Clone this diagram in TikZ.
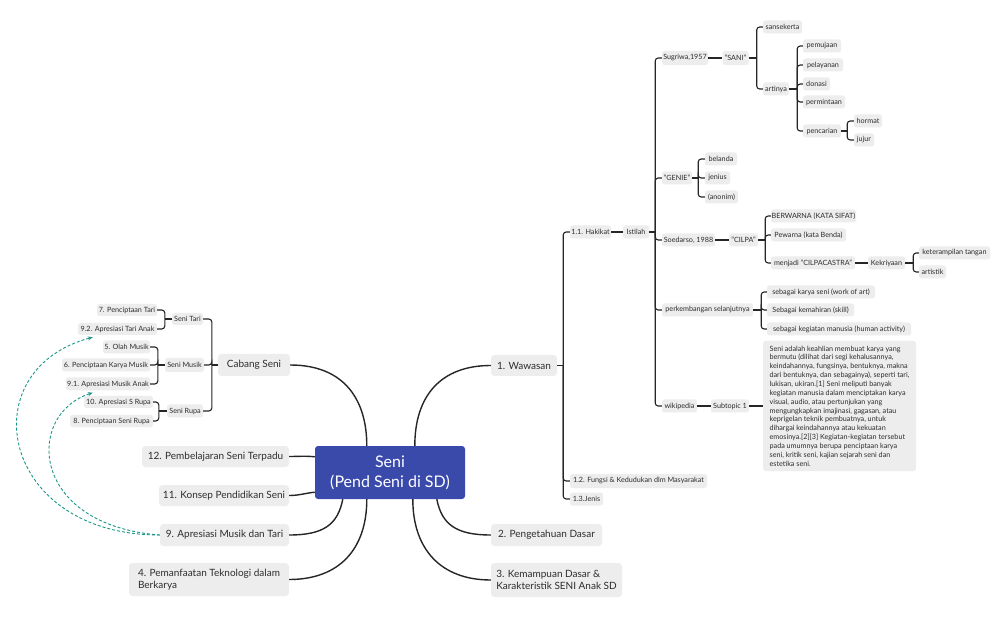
\documentclass[tikz,border=0pt]{standalone}
\usepackage{fontspec}
\setmainfont{Lato}
\usetikzlibrary{calc,arrows.meta}
\definecolor{boxgray}{RGB}{237,237,237}
\definecolor{txt}{RGB}{45,45,45}
\definecolor{lnk}{RGB}{38,38,38}
\definecolor{seniblue}{RGB}{58,74,171}
\definecolor{relteal}{RGB}{26,150,136}
\tikzset{
 sm/.style={fill=boxgray, rounded corners=2.5pt, inner sep=0pt, text=txt, font=\fontsize{7.2}{8.8}\selectfont, minimum height=13pt},
 mn/.style={fill=boxgray, rounded corners=3.5pt, inner sep=0pt, text=txt, font=\fontsize{10}{12}\selectfont, minimum height=21pt},
 mnl/.style={mn, align=left, font=\fontsize{10}{11.5}\selectfont},
 conn/.style={draw=lnk, line width=1.1pt, rounded corners=3pt},
 bigconn/.style={draw=lnk, line width=1.4pt},
 rel/.style={draw=relteal, line width=0.9pt, dash pattern=on 3pt off 2pt, -{Stealth[length=5pt,width=4pt]}}
}
\begin{document}
\begin{tikzpicture}[x=1pt,y=-1pt]
\useasboundingbox (0,0) rectangle (996,617);
\fill[white] (0,0) rectangle (996,617);

% central
\node[fill=seniblue, rounded corners=3pt, minimum width=150pt, minimum height=53pt, inner sep=0pt, text=white, font=\fontsize{16}{20}\selectfont, align=center] (seni) at (390,472.5) {Seni\\(Pend Seni di SD)};

% main nodes
\node[mn, minimum width=66pt] (waw) at (524,365.5) {1. Wawasan};
\node[mn, minimum width=111pt, minimum height=22pt] (peng) at (546.5,535) {2. Pengetahuan Dasar};
\node[mnl, minimum width=131pt, minimum height=34pt] (kem) at (556.5,580) {3. Kemampuan Dasar \&\\Karakteristik SENI Anak SD};
\node[mn, minimum width=72pt, minimum height=22pt] (cab) at (254,365) {Cabang Seni};
\node[mn, minimum width=147pt] (pem) at (215.5,456.5) {12. Pembelajaran Seni Terpadu};
\node[mn, minimum width=130pt] (kon) at (224,495.5) {11. Konsep Pendidikan Seni};
\node[mn, minimum width=129pt, minimum height=22pt] (apr) at (224.5,535) {9. Apresiasi Musik dan Tari};
\node[mnl, minimum width=160pt, minimum height=33pt] (tek) at (209,579.5) {4. Pemanfaatan Teknologi dalam\\Berkarya};

% right small nodes
\node[sm, minimum width=41pt] (hak) at (590.5,232) {1.1. Hakikat};
\node[sm, minimum width=137pt, minimum height=14pt] (fun) at (638.5,481) {1.2. Fungsi \& Kedudukan dlm Masyarakat};
\node[sm, minimum width=33pt] (jen) at (586.5,499) {1.3.Jenis};
\node[sm, minimum width=26pt] (ist) at (636,232) {Istilah};
\node[sm, minimum width=46pt, minimum height=14pt] (sug) at (685,58) {Sugriwa,1957};
\node[sm, minimum width=26pt, minimum height=14pt] (sani) at (735.5,58) {"SANI"};
\node[sm, minimum width=39pt] (sans) at (782.5,27) {sansekerta};
\node[sm, minimum width=26pt] (art) at (776,89) {artinya};
\node[sm, minimum width=38pt] (pmj) at (822,46) {pemujaan};
\node[sm, minimum width=40pt] (pel) at (823,65) {pelayanan};
\node[sm, minimum width=27pt] (don) at (816.5,84) {donasi};
\node[sm, minimum width=42pt] (pmt) at (824,102) {permintaan};
\node[sm, minimum width=38pt] (pen) at (822,131) {pencarian};
\node[sm, minimum width=28pt] (hor) at (868,121) {hormat};
\node[sm, minimum width=20pt] (juj) at (864,140) {jujur};
\node[sm, minimum width=30pt] (gen) at (677,178) {"GENIE"};
\node[sm, minimum width=32pt] (bel) at (721,159) {belanda};
\node[sm, minimum width=25pt] (jns) at (717.5,178) {jenius};
\node[sm, minimum width=33pt] (ano) at (721.5,197) {(anonim)};
\node[sm, minimum width=53pt] (soe) at (688.5,240) {Soedarso, 1988};
\node[sm, minimum width=29pt] (cil) at (743.5,240) {"CILPA"};
\node[sm, minimum width=85pt] (ber) at (813.5,216) {BERWARNA (KATA SIFAT)};
\node[sm, minimum width=75pt] (pew) at (808.5,235) {Pewarna (kata Benda)};
\node[sm, minimum width=84pt] (mnj) at (813,263) {menjadi "CILPACASTRA"};
\node[sm, minimum width=37pt] (kek) at (886.5,263) {Kekriyaan};
\node[sm, minimum width=71pt] (ket) at (954.5,253) {keterampilan tangan};
\node[sm, minimum width=27pt] (atk) at (932.5,272) {artistik};
\node[sm, minimum width=91pt] (prk) at (707.5,310) {perkembangan selanjutnya};
\node[sm, minimum width=108pt] (ks1) at (821,292) {sebagai karya seni (work of art)};
\node[sm, minimum width=87pt] (ks2) at (810.5,310) {Sebagai kemahiran (skill)};
\node[sm, minimum width=144pt] (ks3) at (839,329) {sebagai kegiatan manusia (human activity)};
\node[sm, minimum width=35pt] (wik) at (679.5,406) {wikipedia};
\node[sm, minimum width=38pt] (sub) at (730,406) {Subtopic 1};
\node[sm, align=left, minimum width=153pt, minimum height=130pt, font=\fontsize{7.2}{8.85}\selectfont] (big) at (839.5,406) {Seni adalah keahlian membuat karya yang\\bermutu (dilihat dari segi kehalusannya,\\keindahannya, fungsinya, bentuknya, makna\\dari bentuknya, dan sebagainya), seperti tari,\\lukisan, ukiran.[1] Seni meliputi banyak\\kegiatan manusia dalam menciptakan karya\\visual, audio, atau pertunjukan yang\\mengungkapkan imajinasi, gagasan, atau\\keprigelan teknik pembuatnya, untuk\\dihargai keindahannya atau kekuatan\\emosinya.[2][3] Kegiatan-kegiatan tersebut\\pada umumnya berupa penciptaan karya\\seni, kritik seni, kajian sejarah seni dan\\estetika seni.};

% left small nodes
\node[sm, minimum width=31pt, minimum height=12pt] (tari) at (187.5,319) {Seni Tari};
\node[sm, minimum width=39pt, minimum height=14pt] (musik) at (184.5,365) {Seni Musik};
\node[sm, minimum width=36pt] (rupa) at (185,411) {Seni Rupa};
\node[sm, minimum width=60pt, minimum height=12pt] (t1) at (127,310) {7. Penciptaan Tari};
\node[sm, minimum width=79pt, minimum height=12pt] (t2) at (117.5,329) {9.2. Apresiasi Tari Anak};
\node[sm, minimum width=47pt] (m1) at (126.5,347) {5. Olah Musik};
\node[sm, minimum width=88pt] (m2) at (106,365) {6. Penciptaan Karya Musik};
\node[sm, minimum width=84pt] (m3) at (108,384) {9.1. Apresiasi Musik Anak};
\node[sm, minimum width=69pt, minimum height=12pt] (r1) at (118.5,402) {10. Apresiasi S Rupa};
\node[sm, minimum width=83pt, minimum height=12pt] (r2) at (111.5,421) {8. Penciptaan Seni Rupa};

% central connectors
\draw[bigconn] ($(seni.north west)+(52,0)$) .. controls +(0,-45) and +(55,0) .. (cab.east);
\draw[bigconn] ($(seni.north west)+(100,0)$) .. controls +(0,-50) and +(-50,0) .. (waw.west);
\draw[bigconn] ($(seni.south west)+(28,0)$) .. controls +(-5,25) and +(35,0) .. (apr.east);
\draw[bigconn] ($(seni.south west)+(52,0)$) .. controls +(0,50) and +(50,0) .. (tek.east);
\draw[bigconn] ($(seni.south west)+(98,0)$) .. controls +(0,50) and +(-50,0) .. (kem.west);
\draw[bigconn] ($(seni.south west)+(122,0)$) .. controls +(5,25) and +(-35,0) .. (peng.west);
\draw[bigconn] (pem.east) .. controls +(10,0) and +(-10,-1) .. ($(seni.north west)+(0,11)$);
\draw[bigconn] (kon.east) .. controls +(10,0) and +(-10,1) .. ($(seni.south west)+(0,-7)$);

% right tree
\draw[conn] (waw.east) -- ++(6,0);
\foreach \c in {hak,fun,jen} \draw[conn] ($(waw.east)+(6,0)$) |- (\c.west);
\draw[conn] (hak.east) -- (ist.west);
\draw[conn] (ist.east) -- ++(6,0);
\foreach \c in {sug,gen,soe,prk,wik} \draw[conn] ($(ist.east)+(6,0)$) |- (\c.west);
\draw[conn] (sug.east) -- (sani.west);
\draw[conn] (sani.east) -- ++(8,0);
\foreach \c in {sans,art} \draw[conn] ($(sani.east)+(8,0)$) |- (\c.west);
\draw[conn] (art.east) -- ++(8,0);
\foreach \c in {pmj,pel,don,pmt,pen} \draw[conn] ($(art.east)+(8,0)$) |- (\c.west);
\draw[conn] (pen.east) -- ++(6,0);
\foreach \c in {hor,juj} \draw[conn] ($(pen.east)+(6,0)$) |- (\c.west);
\draw[conn] (gen.east) -- ++(6,0);
\foreach \c in {bel,jns,ano} \draw[conn] ($(gen.east)+(6,0)$) |- (\c.west);
\draw[conn] (soe.east) -- (cil.west);
\draw[conn] (cil.east) -- ++(7,0);
\foreach \c in {ber,pew,mnj} \draw[conn] ($(cil.east)+(7,0)$) |- (\c.west);
\draw[conn] (mnj.east) -- (kek.west);
\draw[conn] (kek.east) -- ++(8,0);
\foreach \c in {ket,atk} \draw[conn] ($(kek.east)+(8,0)$) |- (\c.west);
\draw[conn] (prk.east) -- ++(8,0);
\foreach \c in {ks1,ks2,ks3} \draw[conn] ($(prk.east)+(8,0)$) |- (\c.west);
\draw[conn] (wik.east) -- (sub.west);
\draw[conn] (sub.east) -- (big.west);

% left tree
\draw[conn] (cab.west) -- ++(-6,0);
\foreach \c in {tari,musik,rupa} \draw[conn] ($(cab.west)+(-6,0)$) |- (\c.east);
\draw[conn] (tari.west) -- ++(-7,0);
\foreach \c in {t1,t2} \draw[conn] ($(tari.west)+(-7,0)$) |- (\c.east);
\draw[conn] (musik.west) -- ++(-7,0);
\foreach \c in {m1,m2,m3} \draw[conn] ($(musik.west)+(-7,0)$) |- (\c.east);
\draw[conn] (rupa.west) -- ++(-8,0);
\foreach \c in {r1,r2} \draw[conn] ($(rupa.west)+(-8,0)$) |- (\c.east);

% relationships
\draw[rel] (apr.west) .. controls +(-160,0) and +(-123,33) .. ($(t2.south west)+(15,2)$);
\draw[rel] (apr.west) .. controls +(-130,-10) and +(-68,22) .. ($(m3.south west)+(27,2)$);
\end{tikzpicture}
\end{document}
